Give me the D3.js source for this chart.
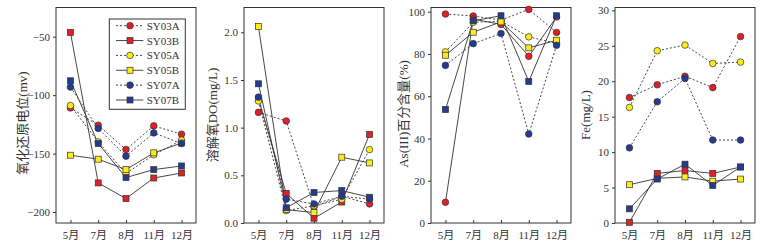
<!DOCTYPE html>
<html>
<head>
<meta charset="utf-8">
<script src="https://cdn.jsdelivr.net/npm/d3@7"></script>
<style>
  body { margin: 0; background: #fff; }
  svg text { font-family: "Liberation Serif", "Noto Sans CJK SC", serif; fill: #333; }
</style>
</head>
<body>
<svg id="chart" width="769" height="247"></svg>
<script>
const months = ["5月", "7月", "8月", "11月", "12月"];
const sites = ["SY03A", "SY03B", "SY05A", "SY05B", "SY07A", "SY07B"];

// 氧化还原电位 (mv)
const orpSY03A = [-110.9, -125.7, -146.5, -126.3, -133.4];
const orpSY03B = [-46.3, -175.1, -188.5, -170.9, -166.6];
const orpSY05A = [-108.9, -140, -167, -151, -138.5];
const orpSY05B = [-151.4, -154.8, -163.7, -149.4, -141];
const orpSY07A = [-93.1, -128.5, -152.2, -132.3, -141.4];
const orpSY07B = [-87.7, -141.4, -170.5, -163.7, -160.6];

// 溶解氧 DO (mg/L)
const doSY03A = [1.16, 1.07, 0.17, 0.28, 0.20];
const doSY03B = [1.30, 0.31, 0.05, 0.22, 0.93];
const doSY05A = [1.28, 0.13, 0.18, 0.25, 0.77];
const doSY05B = [2.06, 0.14, 0.11, 0.69, 0.63];
const doSY07A = [1.32, 0.25, 0.20, 0.28, 0.25];
const doSY07B = [1.46, 0.16, 0.32, 0.34, 0.27];

// As(III) 百分含量 (%)
const asSY03A = [98.9, 98, 96, 101.1, 90.2];
const asSY03B = [9.8, 96.5, 94, 78.9, 97.5];
const asSY05A = [81, 95, 95.5, 88.1, 85];
const asSY05B = [79.4, 90.3, 95.2, 82.9, 86.5];
const asSY07A = [74.6, 84.9, 89.7, 42.1, 84.1];
const asSY07B = [53.7, 95.7, 98.1, 67, 98.1];

// Fe (mg/L)
const feSY03A = [17.7, 19.5, 20.7, 19.1, 26.3];
const feSY03B = [0.1, 7.0, 7.4, 7.0, 7.9];
const feSY05A = [16.3, 24.3, 25.1, 22.5, 22.7];
const feSY05B = [5.4, 6.3, 6.5, 5.9, 6.2];
const feSY07A = [10.6, 17.1, 20.4, 11.7, 11.7];
const feSY07B = [2.0, 6.2, 8.3, 5.3, 7.9];

const orpTicks = [-50, -100, -150, -200];
const doTicks = [0, 0.5, 1.0, 1.5, 2.0];
const asTicks = [0, 20, 40, 60, 80, 100];
const feTicks = [0, 5, 10, 15, 20, 25, 30];

window.addEventListener('load', () => {
    main()
})

function main() {
    const svg = d3.select("#chart");
    const top = 7.5, bottom = 223, w = 140;

    const colors = {SY03A: "#e31e26", SY03B: "#e31e26", SY05A: "#ffeb1a", SY05B: "#ffeb1a", SY07A: "#243b93", SY07B: "#243b93"};
    const shapes = {SY03A: "circle", SY03B: "square", SY05A: "circle", SY05B: "square", SY07A: "circle", SY07B: "square"};

    const panels = [
        {left: 56, label: "氧化还原电位(mv)", labelX: 22, labelY: 123, domain: [-209.4, -25], ticks: orpTicks, fmt: d3.format("d"),
         data: [orpSY03A, orpSY03B, orpSY05A, orpSY05B, orpSY07A, orpSY07B], legend: true},
        {left: 244, label: "溶解氧DO(mg/L)", labelX: 212, labelY: 115, domain: [0, 2.26], ticks: doTicks, fmt: d3.format(".1f"),
         data: [doSY03A, doSY03B, doSY05A, doSY05B, doSY07A, doSY07B]},
        {left: 431, label: "As(III)百分含量(%)", labelX: 403, labelY: 114, domain: [0, 102], ticks: asTicks, fmt: d3.format("d"),
         data: [asSY03A, asSY03B, asSY05A, asSY05B, asSY07A, asSY07B], override: {SY03B: "circle"}},
        {left: 615, label: "Fe(mg/L)", labelX: 585, labelY: 115, domain: [0, 30.4], ticks: feTicks, fmt: d3.format("d"),
         data: [feSY03A, feSY03B, feSY05A, feSY05B, feSY07A, feSY07B]}
    ];

    panels.forEach(p => {
        const g = svg.append("g").attr("transform", "translate(" + p.left + ",0)");
        const x = d3.scalePoint().domain(months).range([0, w]).padding(0.52);
        const y = d3.scaleLinear().domain(p.domain).range([bottom, top]);

        // axes
        const xAxis = g.append("g")
            .attr("transform", "translate(0," + bottom + ")")
            .call(d3.axisBottom(x).tickSizeInner(-3).tickSizeOuter(0).tickPadding(8));
        const yAxis = g.append("g")
            .call(d3.axisLeft(y).tickValues(p.ticks).tickFormat(p.fmt).tickSizeInner(3).tickSizeOuter(0).tickPadding(3));
        [xAxis, yAxis].forEach(a => {
            a.select(".domain").remove();
            a.selectAll("line").attr("stroke", "#333");
            a.selectAll("text").attr("font-size", 11).attr("fill", "#333")
                .style("font-family", "'Liberation Serif', 'Noto Sans CJK SC', serif");
        });

        g.append("rect")
            .attr("x", 0).attr("y", top)
            .attr("width", w).attr("height", bottom - top)
            .attr("fill", "none").attr("stroke", "#333").attr("stroke-width", 1);

        g.append("text")
            .attr("transform", "translate(" + (p.labelX - p.left) + "," + p.labelY + ") rotate(-90)")
            .attr("text-anchor", "middle")
            .attr("dominant-baseline", "central")
            .attr("font-size", 13)
            .text(p.label);

        const line = d3.line()
            .x((d, i) => x(months[i]))
            .y(d => y(d));

        sites.forEach((s, k) => {
            g.append("path")
                .attr("d", line(p.data[k]))
                .attr("fill", "none")
                .attr("stroke", "#333")
                .attr("stroke-width", 0.9)
                .attr("stroke-dasharray", s.endsWith("A") ? "2,2" : null);
        });

        sites.forEach((s, k) => {
            const shape = (p.override && p.override[s]) || shapes[s];
            p.data[k].forEach((v, i) => {
                drawMarker(g, shape, x(months[i]), y(v), colors[s]);
            });
        });

        if (p.legend) {
            const lg = g.append("g");
            const lx = 109.3 - p.left, ly = 19;
            lg.append("rect")
                .attr("x", lx).attr("y", ly)
                .attr("width", 76).attr("height", 90.3)
                .attr("fill", "#fff").attr("stroke", "#333").attr("stroke-width", 1);
            sites.forEach((s, k) => {
                const yy = 25.7 + k * 14.86;
                lg.append("line")
                    .attr("x1", lx + 6.7).attr("x2", lx + 34)
                    .attr("y1", yy).attr("y2", yy)
                    .attr("stroke", "#333").attr("stroke-width", 0.9)
                    .attr("stroke-dasharray", s.endsWith("A") ? "2,2" : null);
                drawMarker(lg, shapes[s], lx + 20.7, yy, colors[s]);
                lg.append("text")
                    .attr("x", lx + 37.4).attr("y", yy)
                    .attr("dominant-baseline", "central")
                    .attr("font-size", 11)
                    .text(s);
            });
        }
    });
}

function drawMarker(g, shape, cx, cy, fill) {
    if (shape === "circle") {
        g.append("circle")
            .attr("cx", cx).attr("cy", cy).attr("r", 3.3)
            .attr("fill", fill).attr("stroke", "#333").attr("stroke-width", 0.7);
    } else {
        g.append("rect")
            .attr("x", cx - 3).attr("y", cy - 3)
            .attr("width", 6).attr("height", 6)
            .attr("fill", fill).attr("stroke", "#333").attr("stroke-width", 0.7);
    }
}
</script>
</body>
</html>
